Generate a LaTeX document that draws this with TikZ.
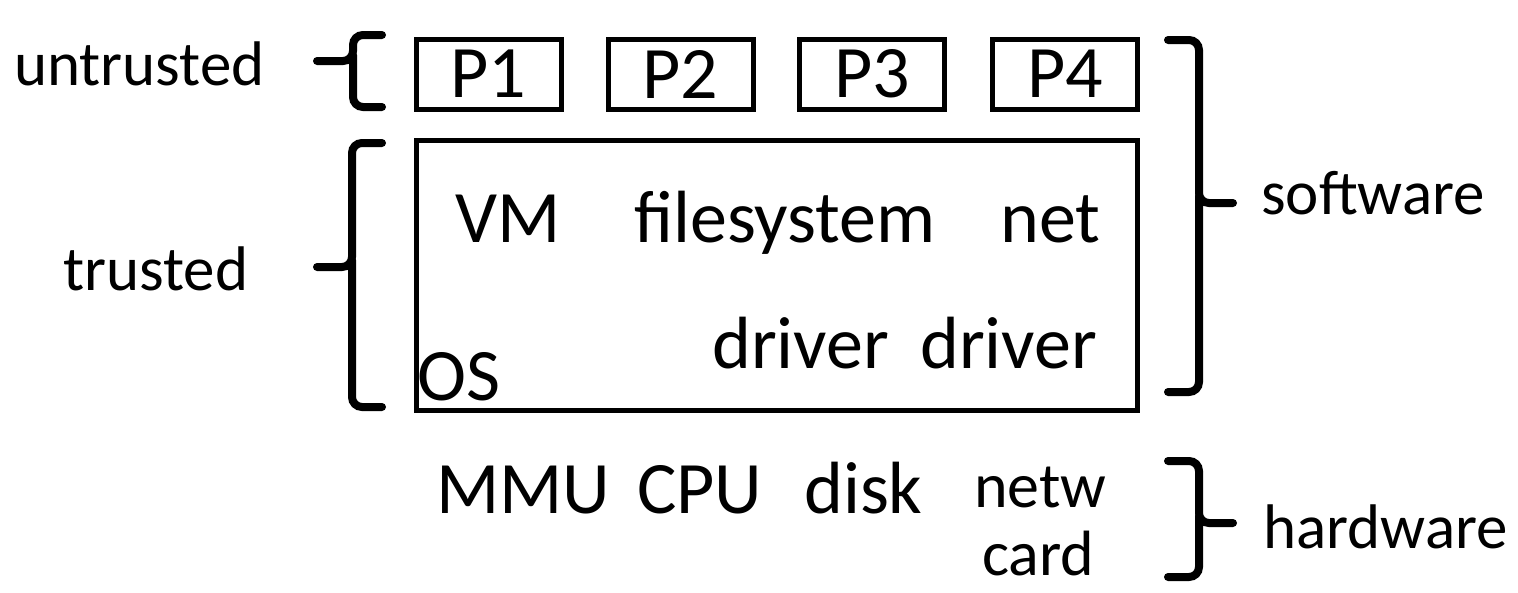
\documentclass[tikz,border=0pt]{standalone}
\usepackage{fontspec}
\setmainfont{Carlito}
\tikzset{
  lbl/.style={inner sep=0pt, anchor=base west, font=\fontsize{74}{74}\selectfont},
  side/.style={inner sep=0pt, anchor=base west, font=\fontsize{63}{63}\selectfont},
  small/.style={inner sep=0pt, anchor=base west, font=\fontsize{64}{64}\selectfont},
  pbox/.style={draw, line width=5pt, minimum width=145pt, minimum height=70pt, inner sep=0pt, font=\fontsize{74}{74}\selectfont},
  brc/.style={line width=8pt, rounded corners=10pt, line cap=round}
}

\begin{document}
\begin{tikzpicture}[x=1pt, y=-1pt]
\useasboundingbox (0,0) rectangle (1518,592);
% processes
\node[pbox] (p1) at (488.5,74) {P1};
\node[pbox] (p2) at (680.5,74) {P2};
\node[pbox] (p3) at (872,74)   {P3};
\node[pbox] (p4) at (1065,74)  {P4};
% kernel
\node[draw, line width=5pt, minimum width=721pt, minimum height=270pt, inner sep=0pt] (os) at (776.5,275) {};
\node[lbl] (vm)   at (455,242)  {VM};
\node[lbl] (fs)   at (634,242)  {filesystem};
\node[lbl] (net)  at (1000,242) {net};
\node[lbl] (drv1) at (712,368)  {driver};
\node[lbl] (drv2) at (920,368)  {driver};
\node[lbl] (oslb) at (417,400)  {OS};
% hardware
\node[lbl] (mmu)  at (436,513)  {MMU};
\node[lbl] (cpu)  at (637,513)  {CPU};
\node[lbl] (disk) at (804,513)  {disk};
\node[small] (netw) at (974,507) {netw};
\node[small] (card) at (982,575) {card};
% side labels
\node[side] (untr) at (14,85)    {untrusted};
\node[side] (tr)   at (63,290)   {trusted};
\node[side] (sw)   at (1261,214) {software};
\node[side] (hw)   at (1263,548) {hardware};
% braces
\draw[brc] (382,35) -- (353,35) -- (353,61) -- (317,61);
\draw[brc] (353,55) -- (353,107) -- (382,107);
\draw[brc] (382,143) -- (352,143) -- (352,267) -- (317,267);
\draw[brc] (352,260) -- (352,407) -- (382,407);
\draw[brc] (1168,40) -- (1199,40) -- (1199,203) -- (1233,203);
\draw[brc] (1199,196) -- (1199,392) -- (1168,392);
\draw[brc] (1168,461) -- (1199,461) -- (1199,523) -- (1233,523);
\draw[brc] (1199,516) -- (1199,577) -- (1168,577);
\end{tikzpicture}
\end{document}
